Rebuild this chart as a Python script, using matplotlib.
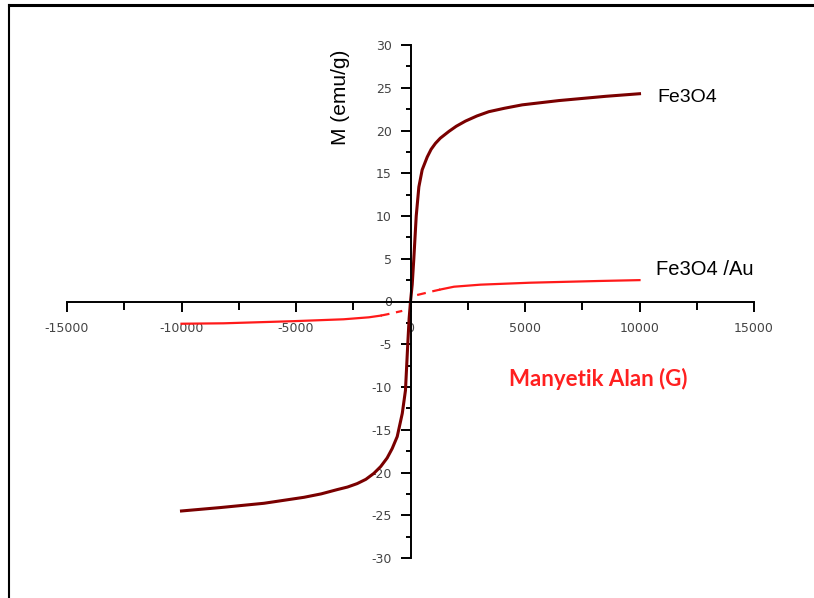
import matplotlib
matplotlib.use("Agg")
import matplotlib.pyplot as plt
from matplotlib.ticker import MultipleLocator

plt.rcParams["axes.unicode_minus"] = False

# Fe3O4 hysteresis
fe_h = [-10000, -8300, -6400, -4650, -3900, -3200, -2750, -2330, -1950, -1600, -1300, -1020, -800,
        -580, -360, -220, -120, -60,
        0, 75, 145, 250, 365, 510, 730, 900, 1090, 1300, 1680, 2000, 2400, 2900, 3420, 4100,
        4880, 6480, 8530, 10000]
fe_m = [-24.5, -24.1, -23.6, -22.9, -22.5, -22.0, -21.7, -21.3, -20.8, -20.1, -19.3, -18.3, -17.2,
        -15.8, -13.1, -10.4, -5.0, -2.0,
        0.0, 2.0, 5.0, 10.0, 13.4, 15.4, 16.9, 17.8, 18.5, 19.1, 19.9, 20.5, 21.1, 21.7, 22.2, 22.6,
        23.0, 23.5, 24.0, 24.3]

# Fe3O4/Au, solid and sparse parts
au_neg_h = [-10000, -8160, -5100, -2920, -1820, -1300]
au_neg_m = [-2.6, -2.55, -2.3, -2.08, -1.85, -1.65]
au_mid_neg_h = [-1300, -1020, -360]
au_mid_neg_m = [-1.65, -1.5, -1.1]
au_mid_pos_h = [290, 1020, 1300]
au_mid_pos_m = [0.76, 1.23, 1.4]
au_pos_h = [1300, 1900, 3060, 5250, 8240, 10000]
au_pos_m = [1.4, 1.73, 1.97, 2.2, 2.4, 2.5]

fig = plt.figure(figsize=(8.14, 5.98), dpi=100)
ax = fig.add_axes([67 / 814, 1 - 558 / 598, 687 / 814, 513 / 598])

dark = "#7a0000"
red = "#ff1a1a"
ax.plot(au_neg_h, au_neg_m, color=red, lw=1.6)
ax.plot(au_mid_neg_h, au_mid_neg_m, color=red, lw=1.6, ls=(0, (4, 3)))
ax.plot(au_mid_pos_h, au_mid_pos_m, color=red, lw=1.6, ls=(0, (4, 3)))
ax.plot(au_pos_h, au_pos_m, color=red, lw=1.6)
ax.plot(fe_h, fe_m, color=dark, lw=2.2)

ax.set_xlim(-15000, 15000)
ax.set_ylim(-30, 30)
ax.spines["left"].set_position(("data", 0))
ax.spines["bottom"].set_position(("data", 0))
ax.spines["top"].set_visible(False)
ax.spines["right"].set_visible(False)
for s in ["left", "bottom"]:
    ax.spines[s].set_linewidth(1.4)

ax.xaxis.set_major_locator(MultipleLocator(5000))
ax.xaxis.set_minor_locator(MultipleLocator(2500))
ax.yaxis.set_major_locator(MultipleLocator(5))
ax.yaxis.set_minor_locator(MultipleLocator(2.5))
ax.tick_params(axis="x", which="major", direction="out", length=7.5, width=1.4, pad=7,
               labelsize=9, labelcolor="#444444")
ax.tick_params(axis="x", which="minor", direction="out", length=5.5, width=1.4)
ax.tick_params(axis="y", which="major", direction="out", length=7.5, width=1.4, pad=6,
               labelsize=9, labelcolor="#444444")
ax.tick_params(axis="y", which="minor", direction="out", length=3.5, width=1.4)

fig.text(340 / 814, 1 - 97 / 598, "M (emu/g)", rotation=90, ha="center", va="center",
         fontsize=15, family="Liberation Sans")
fig.text(598 / 814, 1 - 379 / 598, "Manyetik Alan (G)", ha="center", va="center",
         fontsize=16, color="#ff2020", family="Lato", weight="bold")
fig.text(657 / 814, 1 - 97 / 598, "Fe3O4", ha="left", va="center",
         fontsize=14, family="Liberation Sans")
fig.text(656 / 814, 1 - 270 / 598, "Fe3O4 /Au", ha="left", va="center",
         fontsize=14.5, family="Liberation Sans")

# frame lines at top and left
fig.add_artist(plt.Line2D([9 / 814, 1], [1 - 5 / 598, 1 - 5 / 598], color="black", lw=2.2))
fig.add_artist(plt.Line2D([9 / 814, 9 / 814], [0, 1 - 5 / 598], color="black", lw=1.5))

fig.savefig("out.png", dpi=100)
